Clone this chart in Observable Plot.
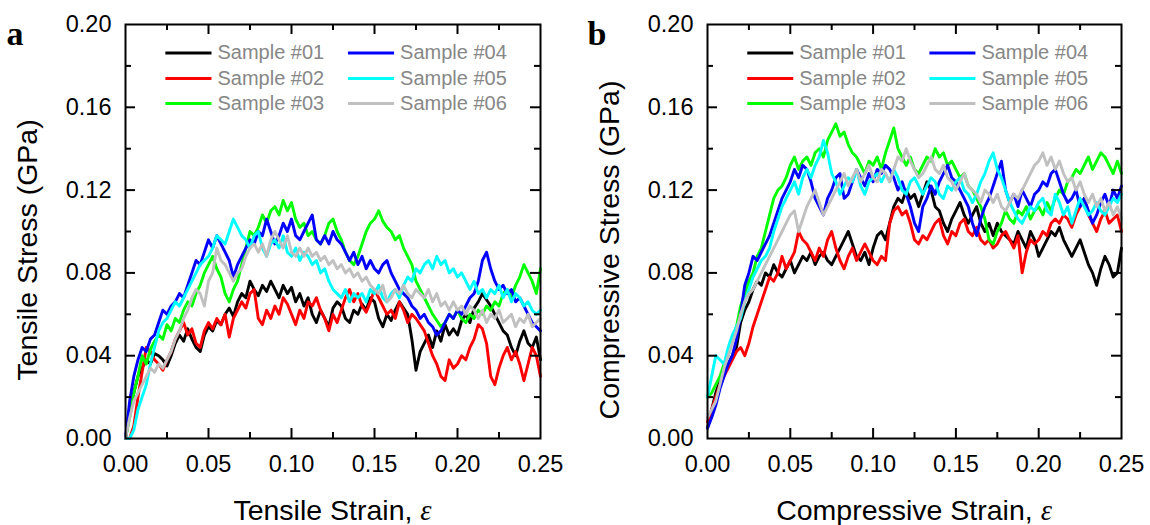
<!DOCTYPE html>
<html><head><meta charset="utf-8">
<script src="https://cdn.jsdelivr.net/npm/d3@7"></script>
<script src="https://cdn.jsdelivr.net/npm/@observablehq/plot@0.6"></script>
<style>
body{margin:0;background:#fff}
#wrap{display:flex;width:1150px;height:525px;overflow:hidden}
</style>
</head><body><div id="wrap"></div>
<script>
const samples = ["Sample #01","Sample #02","Sample #03","Sample #04","Sample #05","Sample #06"];
const colors = ["#000000","#ff0000","#00ff00","#0000ff","#00ffff","#c0c0c0"];
const xTicks = [0,0.05,0.10,0.15,0.20,0.25];
const yTicks = [0,0.04,0.08,0.12,0.16,0.20];
const xMinor = [0.025,0.075,0.125,0.175,0.225];
const yMinor = [0.02,0.06,0.10,0.14,0.18];

// strain grid
const strain = [0,0.0025,0.005,0.0075,0.01,0.0125,0.015,0.0175,0.02,0.0225,0.025,0.0275,0.03,0.0325,0.035,0.0375,0.04,0.0425,0.045,0.0475,0.05,0.0525,0.055,0.0575,0.06,0.0625,0.065,0.0675,0.07,0.0725,0.075,0.0775,0.08,0.0825,0.085,0.0875,0.09,0.0925,0.095,0.0975,0.1,0.1025,0.105,0.1075,0.11,0.1125,0.115,0.1175,0.12,0.1225,0.125,0.1275,0.13,0.1325,0.135,0.1375,0.14,0.1425,0.145,0.1475,0.15,0.1525,0.155,0.1575,0.16,0.1625,0.165,0.1675,0.17,0.1725,0.175,0.1775,0.18,0.1825,0.185,0.1875,0.19,0.1925,0.195,0.1975,0.2,0.2025,0.205,0.2075,0.21,0.2125,0.215,0.2175,0.22,0.2225,0.225,0.2275,0.23,0.2325,0.235,0.2375,0.24,0.2425,0.245,0.2475,0.25];

// Tensile stress, MPa (panel a)
const tensile01 = [0,12,22,30, 34,38,36,41, 40,38,35,40, 46,50,47,53, 48,44,42,50, 54,52,57,55, 60,63,59,66, 70,68,76,72, 69,74,71,76, 72,68,74,70, 73,66,70,64, 68,60,56,62, 58,54,63,66, 64,58,56,62, 60,65,62,68, 66,58,54,60, 57,62,66,63, 60,48,33,42, 46,50,44,52, 47,55,50,53, 50,57,60,56, 63,66,70,67, 64,60,56,52, 50,44,40,47, 52,46,44,49, 38];
const tensile02 = [0,0,6,20, 32,44,42,38, 36,33,38,42, 48,52,56,50, 53,46,44,52, 56,53,58,55, 60,49,58,62, 66,63,70,72, 58,55,62,58, 64,60,68,65, 60,55,62,58, 66,64,68,62, 58,52,60,56, 62,68,72,66, 70,64,61,66, 72,68,64,60, 62,58,66,62, 56,60,58,55, 52,46,40,36, 30,28,38,34, 36,40,38,44, 48,55,53,46, 30,26,34,40, 44,38,42,36, 28,36,44,40, 30];
const tensile03 = [0,10,22,30, 40,36,43,47, 50,48,55,52, 58,56,62,66, 64,70,74,80, 84,88,82,78, 70,66,72,76, 84,92,100,98, 102,108,104,110, 112,108,115,110, 114,106,102,104, 98,100,96,94, 98,104,106,100, 96,90,86,84, 88,94,100,104, 106,110,105,102, 100,96,98,92, 88,84,76,72, 68,64,60,57, 54,56,60,58, 62,58,56,60, 58,62,60,64, 62,66,64,70, 72,68,74,78, 84,80,76,70, 82];
const tensile04 = [0,18,30,38, 44,42,48,50, 56,62,60,64, 66,70,68,74, 80,86,84,90, 96,92,98,94, 90,86,78,84, 88,92,96,94, 100,98,106,100, 94,98,104,100, 106,98,96,100, 104,108,96,94, 98,94,100,96, 94,90,86,90, 84,88,82,86, 82,80,84,86, 80,76,72,70, 68,64,62,58, 60,56,54,50, 52,56,60,58, 62,60,64,68, 70,76,86,90, 82,76,72,74, 70,72,66,68, 64,60,56,54, 52];
const tensile05 = [0,0,4,14, 20,26,36,44, 52,56,58,62, 66,64,68,72, 76,80,84,86, 88,92,98,96, 94,100,106,102, 98,96,92,98, 100,92,88,94, 96,92,98,90, 88,92,86,90, 88,84,86,80, 82,76,72,70, 68,72,66,70, 68,70,66,72, 70,74,68,66, 70,72,68,74, 78,76,82,80, 84,86,82,88, 84,86,80,82, 78,80,76,72, 76,70,72,68, 72,70,74,68, 72,66,70,68, 64,66,62,60, 62];
const tensile06 = [0,10,18,22, 26,30,34,32, 36,34,38,42, 48,52,58,62, 68,72,70,64, 76,80,92,86, 84,80,76,80, 82,88,92,94, 90,94,88,96, 100,96,92,98, 90,88,92,88, 92,88,90,86, 88,84,86,82, 84,80,82,78, 80,76,78,74, 72,70,74,66, 68,72,70,74, 70,68,72,70, 68,72,66,70, 64,66,62,66, 62,64,60,64, 62,58,62,56, 60,58,62,56, 58,60,54,58, 56,60,54,56, 58];

// Compressive stress, MPa (panel b)
const compress01 = [5,14,22,28, 32,36,40,44, 56,62,66,72, 76,74,80,78, 84,80,78,82, 86,80,84,88, 86,90,84,88, 90,86,84,88, 92,96,100,94, 88,86,90,84, 92,98,100,96, 104,112,116,114, 120,116,118,112, 118,124,120,112, 110,104,100,106, 110,114,108,104, 108,112,104,100, 104,98,104,100, 98,96,94,100, 96,92,100,96, 88,92,96,100, 98,102,96,92, 88,92,96,90, 84,80,74,82, 88,84,78,80, 92];
const compress02 = [8,14,20,26, 30,34,38,42, 44,40,46,54, 60,66,72,78, 76,80,88,82, 86,90,100,96, 94,90,86,92, 88,96,100,92, 86,82,88,92, 86,90,94,90, 86,84,88,86, 104,110,112,108, 110,104,96,94, 98,96,100,104, 106,98,94,100, 98,104,106,100, 98,102,96,94, 96,92,94,98, 100,96,92,98, 80,90,96,94, 96,100,98,104, 106,104,108,106, 102,108,112,116, 108,104,100,106, 110,104,106,108, 100];
const compress03 = [20,22,26,30, 36,40,48,54, 64,70,76,80, 88,92,100,108, 116,120,122,126, 132,136,130,134, 136,132,138,140, 136,144,148,152, 146,148,142,138, 136,132,128,134, 132,136,130,138, 144,150,140,136, 132,136,130,128, 132,136,134,140, 136,138,132,134, 130,126,128,122, 120,116,112,106, 96,94,100,104, 110,106,104,110, 108,112,106,110, 112,108,114,110, 116,120,118,124, 126,130,128,132, 136,130,134,138, 136,132,128,134, 128];
const compress04 = [5,10,16,24, 30,36,40,48, 60,74,80,88, 86,90,94,98, 104,110,116,120, 124,130,126,132, 130,124,116,112, 108,116,120,126, 128,116,118,124, 130,126,122,128, 124,130,128,132, 130,126,120,124, 118,112,104,100, 112,116,122,118, 124,128,132,126, 124,120,116,112, 104,98,106,112, 116,122,128,134, 120,114,118,112, 120,116,112,118, 120,124,122,128, 130,124,118,114, 116,120,112,116, 110,104,108,114, 118,112,120,116, 122];
const compress05 = [20,30,40,38, 36,44,50,54, 58,66,72,78, 82,86,88,92, 100,106,112,116, 120,124,118,126, 130,126,132,136, 144,138,128,124, 118,122,126,124, 130,122,118,124, 126,128,124,128, 124,130,126,120, 118,124,126,122, 118,122,126,124, 118,116,122,120, 124,126,120,118, 114,118,124,128, 134,138,130,126, 120,114,110,106, 104,108,112,110, 114,116,110,108, 118,114,108,112, 104,110,116,112, 108,110,114,110, 108,112,116,114, 118];
const compress06 = [10,14,18,26, 34,40,46,52, 60,66,70,72, 76,80,84,88, 92,96,100,104, 108,110,100,106, 112,116,120,114, 108,112,116,120, 124,128,122,126, 130,124,128,132, 126,124,130,128, 124,130,136,134, 140,134,130,126, 128,132,136,130, 128,132,126,124, 120,124,128,122, 120,118,114,120, 118,114,118,112, 110,114,118,116, 120,124,128,132, 134,138,132,136, 130,134,128,124, 126,120,124,118, 114,118,112,116, 110,114,108,112, 106];

const FONT = "'Liberation Sans', Arial, Helvetica, sans-serif";
const SERIF = "'Liberation Serif', 'Times New Roman', Times, serif";

function panel({letter, series, xTitle, yTitle, ml, mr}) {
  const W = 575, H = 525, mt = 24, mb = 87;
  const pw = W - ml - mr, ph = H - mt - mb;
  const rows = series.flatMap((vals, k) => vals.map((v, i) => ({strain: strain[i], stress: v / 1000, sample: samples[k]})));
  const leg = samples.map((s, k) => ({sample: s, col: Math.floor(k / 3), row: k % 3}));
  const legX = [0.024, 0.134], legY = [0.1862, 0.1739, 0.1618], legLen = 0.0278;
  const tickStyle = {stroke: "#000", strokeWidth: 2};
  const plot = Plot.plot({
    width: W, height: H,
    marginLeft: ml, marginRight: mr, marginTop: mt, marginBottom: mb,
    style: {fontFamily: FONT, background: "#fff", color: "#000"},
    x: {domain: [0, 0.25]},
    y: {domain: [0, 0.2]},
    color: {domain: samples, range: colors},
    marks: [
      Plot.line(rows, {x: "strain", y: "stress", z: "sample", stroke: "sample", strokeWidth: 2.9, strokeLinejoin: "round"}),
      Plot.link(leg, {x1: d => legX[d.col], x2: d => legX[d.col] + legLen, y1: d => legY[d.row], y2: d => legY[d.row], stroke: "sample", strokeWidth: 3}),
      Plot.text(leg, {x: d => legX[d.col] + legLen + 0.0036, y: d => legY[d.row], text: "sample", textAnchor: "start", fill: "#878787", fontSize: 20}),
      Plot.tickX(xTicks.slice(1, -1), {x: d => d, insetTop: ph - 10, ...tickStyle}),
      Plot.tickX(xTicks.slice(1, -1), {x: d => d, insetBottom: ph - 10, ...tickStyle}),
      Plot.tickX(xMinor, {x: d => d, insetTop: ph - 6, ...tickStyle}),
      Plot.tickX(xMinor, {x: d => d, insetBottom: ph - 6, ...tickStyle}),
      Plot.tickY(yTicks.slice(1, -1), {y: d => d, insetRight: pw - 10, ...tickStyle}),
      Plot.tickY(yTicks.slice(1, -1), {y: d => d, insetLeft: pw - 10, ...tickStyle}),
      Plot.tickY(yMinor, {y: d => d, insetRight: pw - 6, ...tickStyle}),
      Plot.tickY(yMinor, {y: d => d, insetLeft: pw - 6, ...tickStyle}),
      Plot.frame({stroke: "#000", strokeWidth: 2}),
      Plot.axisX({ticks: xTicks, tickSize: 0, tickPadding: 17, tickFormat: d3.format(".2f"), fontSize: 23.5, label: null}),
      Plot.axisY({ticks: yTicks, tickSize: 0, tickPadding: 14, tickFormat: d3.format(".2f"), fontSize: 23.5, label: null})
    ]
  });
  const svg = d3.select(plot);
  const xt = svg.append("text").attr("x", ml + pw / 2).attr("y", 520)
    .attr("text-anchor", "middle").attr("font-size", 28.5).attr("font-family", FONT).attr("fill", "#000");
  xt.append("tspan").text(xTitle + ", ");
  xt.append("tspan").attr("font-family", SERIF).attr("font-style", "italic").text("ε");
  svg.append("text").attr("transform", `translate(${ml - 88},250) rotate(-90)`)
    .attr("text-anchor", "middle").attr("font-size", 28.5).attr("font-family", FONT).attr("fill", "#000")
    .text(yTitle);
  svg.append("text").attr("x", ml - 110).attr("y", 45)
    .attr("font-family", SERIF).attr("font-weight", "bold").attr("font-size", 34).attr("fill", "#000")
    .text(letter);
  return plot;
}

const wrap = document.getElementById("wrap");
wrap.appendChild(panel({letter: "a", series: [tensile01, tensile02, tensile03, tensile04, tensile05, tensile06],
  xTitle: "Tensile Strain", yTitle: "Tensile Stress (GPa)", ml: 125, mr: 35}));
wrap.appendChild(panel({letter: "b", series: [compress01, compress02, compress03, compress04, compress05, compress06],
  xTitle: "Compressive Strain", yTitle: "Compressive Stress (GPa)", ml: 132, mr: 29}));
</script></body></html>
